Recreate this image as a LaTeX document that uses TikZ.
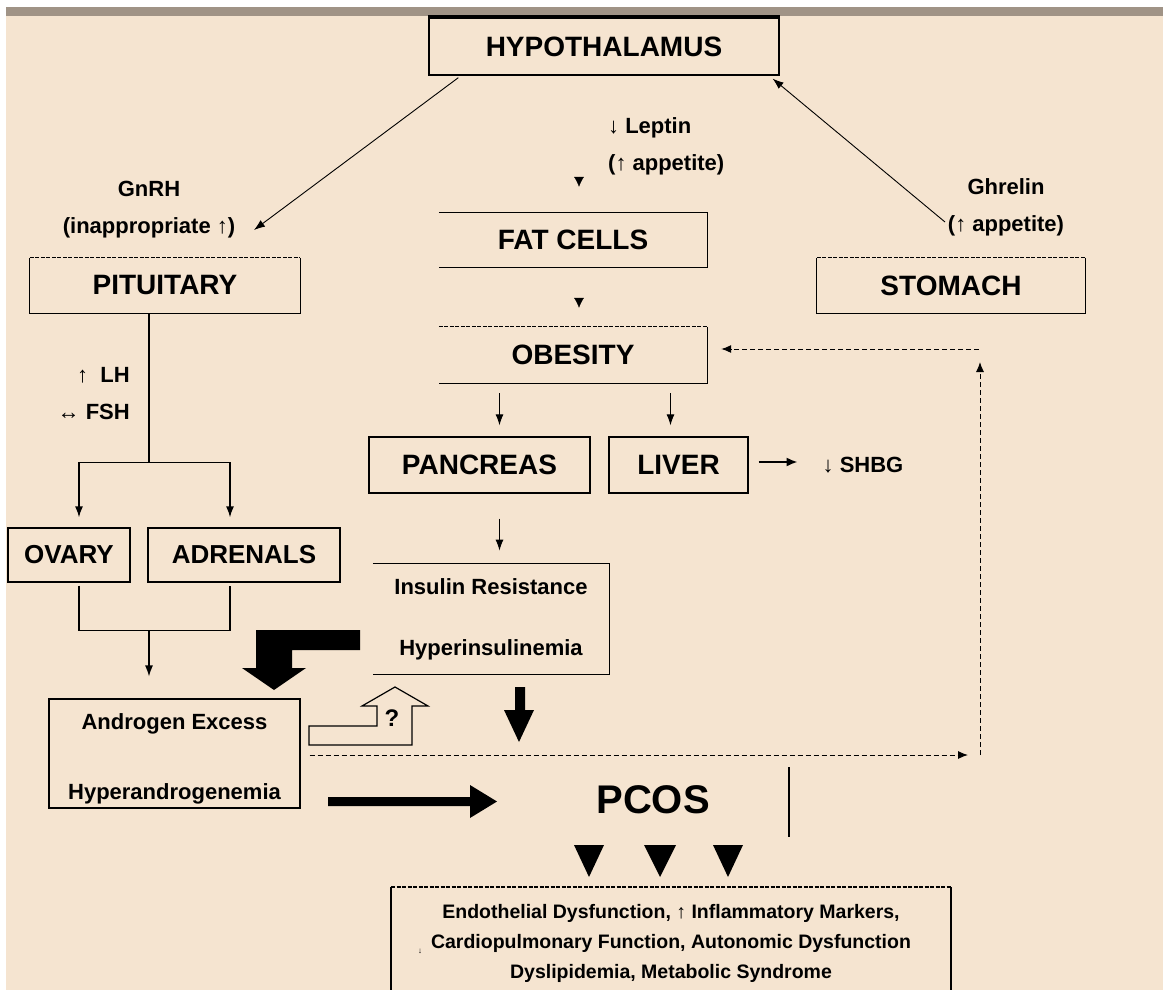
\documentclass[tikz,border=0pt]{standalone}
\usepackage{fontspec}
\setmainfont{Liberation Sans}
\usetikzlibrary{arrows.meta,calc,positioning}
\definecolor{paper}{RGB}{245,228,208}
\definecolor{topbar}{RGB}{160,147,134}

\begin{document}
\begin{tikzpicture}[x=1pt,y=-1pt]
	\tikzstyle{organ}=[inner sep=0pt,font=\fontsize{28}{30}\selectfont\bfseries]
	\tikzstyle{boxed}=[organ,draw=black,line width=1.3pt]
	\tikzstyle{note}=[inner sep=0pt,align=center,font=\fontsize{22}{37}\selectfont\bfseries]
	\tikzstyle{rim}=[line width=1.3pt]
	\tikzstyle{dashrim}=[line width=1.3pt,dash pattern=on 4pt off 1.5pt]
	\tikzstyle{arr}=[line width=1pt,-{Latex[length=11pt,width=8pt]}]
	\tikzstyle{tip}=[-{Latex[length=10pt,width=10pt]}]
	\tikzstyle{dasharr}=[line width=1pt,dash pattern=on 5pt off 3pt,-{Latex[length=10pt,width=8pt]}]
	\useasboundingbox (0,0) rectangle (1163,990);
	\fill[white] (0,0) rectangle (1163,990);
	\fill[paper] (6,16) rectangle (1163,990);
	\fill[topbar] (6,7) rectangle (1163,16);
	% organs
	\node[boxed,minimum width=350pt,minimum height=57pt] (hypo) at (604,46.5) {HYPOTHALAMUS};
	\draw[line width=4pt] (hypo.north west) -- (hypo.north east);
	\node[organ,minimum width=270pt,minimum height=55pt] (pit) at (165,285.5) {PITUITARY};
	\draw[dashrim] (pit.north west) -- (pit.north east);
	\draw[rim] (pit.north east) -- (pit.south east) -- (pit.south west) -- (pit.north west);
	\node[organ,minimum width=268pt,minimum height=55pt] (stom) at (951,285.5) {STOMACH};
	\draw[dashrim] (stom.north west) -- (stom.north east);
	\draw[rim] (stom.north east) -- (stom.south east) -- (stom.south west) -- (stom.north west);
	\node[organ,minimum width=268pt,minimum height=54pt] (fat) at (573,240) {FAT CELLS};
	\draw[rim] (fat.north west) -- (fat.north east) -- (fat.south east) -- (fat.south west);
	\node[organ,minimum width=268pt,minimum height=56pt] (obes) at (573,355) {OBESITY};
	\draw[dashrim] (obes.north west) -- (obes.north east);
	\draw[rim] (obes.north east) -- (obes.south east) -- (obes.south west);
	\node[boxed,minimum width=221pt,minimum height=56pt] (panc) at (479.5,465) {PANCREAS};
	\node[boxed,minimum width=139pt,minimum height=56pt] (liver) at (678.5,465) {LIVER};
	\node[note] (shbg) at (863,465) {↓ SHBG};
	\node[note,font=\fontsize{22}{61}\selectfont\bfseries,minimum width=236pt,minimum height=110pt] (ins) at (491,619) {Insulin Resistance\\Hyperinsulinemia};
	\draw[rim] (ins.north west) -- (ins.north east) -- (ins.south east) -- (ins.south west);
	\node[boxed,font=\fontsize{26}{28}\selectfont\bfseries,minimum width=122pt,minimum height=54pt] (ovary) at (69,555) {OVARY};
	\node[boxed,font=\fontsize{26}{28}\selectfont\bfseries,minimum width=192pt,minimum height=54pt] (adren) at (244,555) {ADRENALS};
	\node[draw,line width=1.1pt,minimum width=251pt,minimum height=109pt] (andro) at (174.5,753.5) {};
	\node[note,font=\fontsize{22}{70}\selectfont\bfseries] (androtext) at (174.5,759) {Androgen Excess\\Hyperandrogenemia};
	\node[inner sep=0pt,font=\fontsize{40}{44}\selectfont\bfseries] (pcos) at (653,800) {PCOS};
	\node[note,font=\fontsize{19.5}{30}\selectfont\bfseries] (effects) at (671,943) {Endothelial Dysfunction, ↑ Inflammatory Markers,\\Cardiopulmonary Function, Autonomic Dysfunction\\Dyslipidemia, Metabolic Syndrome};
	\node[inner sep=0pt,font=\fontsize{8}{8}\selectfont\bfseries] (tick) at (420,951) {↓};
	\draw[dashrim] (391,887) -- (951,887);
	\draw[rim] (391,887) -- (391,990);
	\draw[rim] (951,887) -- (951,990);
	% hormone labels
	\node[note] (gnrh) at (149,210) {GnRH\\(inappropriate ↑)};
	\node[note,align=left,anchor=west] (leptin) at (608,146) {↓ Leptin\\(↑ appetite)};
	\node[note] (ghrelin) at (1006,207.5) {Ghrelin\\(↑ appetite)};
	\node[note,align=right,anchor=east] (lhfsh) at (130,394) {↑\ \ LH\\↔ FSH};
	% connectors
	\coordinate (gnrhtip) at (254,230);
	\coordinate (ghreltail) at (945,222);
	\draw[arr,line width=0.9pt] ($(hypo.south west)+(30,2)$) -- (gnrhtip);
	\draw[arr,line width=0.9pt] (ghreltail) -- ($(hypo.south east)+(-7,3)$);
	\draw[tip] ($(fat.north)+(6,-36)$) -- ($(fat.north)+(6,-26)$);
	\draw[tip] ($(obes.north)+(6,-29)$) -- ($(obes.north)+(6,-19)$);
	\draw[arr] ($(panc.north)+(20,-43)$) -- ($(panc.north)+(20,-11)$);
	\draw[arr] ($(liver.north)+(-8,-43)$) -- ($(liver.north)+(-8,-11)$);
	\draw[line width=2pt,-{Latex[length=11pt,width=9pt]}] ($(liver.east)+(10,-3)$) -- ($(liver.east)+(49,-3)$);
	\draw[arr] ($(panc.south)+(20,25)$) -- ($(panc.south)+(20,57)$);
	\draw[rim] ($(pit.south)+(-16,0)$) -- ++(0,149) coordinate (split);
	\draw[arr,line width=1.3pt] (split) -| ($(ovary.north)+(10,-10)$);
	\draw[arr,line width=1.3pt] (split) -| ($(adren.north)+(-14,-10)$);
	\draw[rim] ($(ovary.south)+(10,3)$) |- ($(adren.south)+(-14,48)$) -- ($(adren.south)+(-14,3)$);
	\coordinate (join) at ($(ovary.south)+(80,48)$);
	\draw[arr,line width=1.3pt] (join) -- ($(andro.north)+(-25.5,-22)$);
	\draw[dasharr] ($(andro.east)+(9,1.5)$) -- (968,755);
	\draw[dasharr] (980,755) -- (980,362);
	\draw[dasharr] (979,349) -- ($(obes.east)+(14,-6)$);
	\draw[rim] ($(pcos)+(136,-33)$) -- ++(0,70);
	% block arrows
	\fill (360,630) -- (256,630) -- (256,668) -- (242,668) -- (274,690) -- (306,668) -- (292,668) -- (292,650) -- (360,650) -- cycle;
	\draw[line width=1.2pt] (309,745) -- (309,726) -- (377,726) -- (377,706) -- (362,706) -- (395,687) -- (428,706) -- (412,706) -- (412,745) -- cycle;
	\node[inner sep=0pt,font=\fontsize{24}{26}\selectfont\bfseries] (query) at (392,718) {?};
	\fill (515,687) -- (525,687) -- (525,710) -- (534,710) -- (519,742) -- (504,710) -- (515,710) -- cycle;
	\fill (328,797) -- (470,797) -- (470,785) -- (497,801.5) -- (470,818) -- (470,806) -- (328,806) -- cycle;
	\fill (574,845) -- (604,845) -- (589,877) -- cycle;
	\fill (644,845) -- (676,845) -- (660,877) -- cycle;
	\fill (713,845) -- (743,845) -- (728,877) -- cycle;
\end{tikzpicture}
\end{document}
